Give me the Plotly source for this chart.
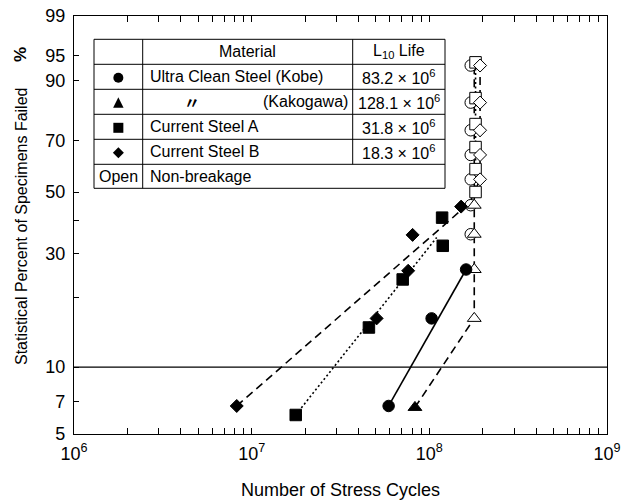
import numpy as np
import plotly.graph_objects as go

# ---------------- data ----------------
kobe_fail_cycles = [5.9e7, 1.03e8, 1.61e8]
kobe_fail_pct = [6.7, 16.3, 26.0]
kobe_open_cycles = [1.71e8, 1.71e8, 1.71e8, 1.71e8, 1.71e8, 1.71e8, 1.71e8]
kobe_open_pct = [35.6, 45.2, 54.8, 64.4, 74.0, 83.7, 93.3]
kobe_line_cycles = [5.9e7, 1.61e8]
kobe_line_pct = [6.7, 26.0]

kako_fail_cycles = [8.3e7]
kako_fail_pct = [6.6]
kako_open_cycles = [1.79e8, 1.79e8, 1.79e8, 1.79e8]
kako_open_pct = [16.3, 26.0, 35.6, 45.2]
kako_line_cycles = [8.3e7, 1.79e8, 1.79e8]
kako_line_pct = [6.6, 16.3, 93.3]

steelA_fail_cycles = [1.77e7, 4.57e7, 7.08e7, 1.19e8, 1.18e8]
steelA_fail_pct = [6.1, 14.9, 23.7, 32.2, 40.9]
steelA_open_cycles = [1.82e8, 1.82e8, 1.82e8, 1.82e8, 1.82e8, 1.82e8]
steelA_open_pct = [50.0, 58.8, 67.5, 76.3, 85.1, 93.9]
steelA_line_cycles = [1.77e7, 1.10e8]
steelA_line_pct = [6.1, 34.6]
steelA_vline_cycles = [1.82e8, 1.82e8]
steelA_vline_pct = [50.0, 93.9]

steelB_fail_cycles = [8.24e6, 5.05e7, 7.6e7, 8.05e7, 1.51e8]
steelB_fail_pct = [6.7, 16.3, 25.7, 35.4, 44.7]
steelB_open_cycles = [1.93e8, 1.93e8, 1.93e8, 1.93e8, 1.93e8]
steelB_open_pct = [54.8, 64.4, 74.0, 83.7, 93.3]
steelB_line_cycles = [8.24e6, 1.69e8, 1.93e8, 1.93e8]
steelB_line_pct = [6.7, 46.1, 54.8, 93.3]

y_tick_pct = [5, 7, 10, 20, 30, 40, 50, 70, 90, 95, 99]
y_tick_text = ["5", "7", "10", "", "30", "", "50", "70", "90", "95", "99"]
x_tick_vals = [1e6, 1e7, 1e8, 1e9]
x_tick_text = ["10<sup>6</sup>", "10<sup>7</sup>", "10<sup>8</sup>", "10<sup>9</sup>"]
x_minor_vals = [m * 10 ** e for e in (6, 7, 8) for m in range(2, 10)]
reference_pct = 10

table_materials = ["Ultra Clean Steel (Kobe)", "〃", "Current Steel A", "Current Steel B"]
table_l10 = ["83.2 × 10<sup>6</sup>", "128.1 × 10<sup>6</sup>", "31.8 × 10<sup>6</sup>", "18.3 × 10<sup>6</sup>"]


def weib(p):
    p = np.asarray(p, dtype=float) / 100.0
    return np.log(-np.log(1.0 - p))


# ---------------- figure ----------------
W, H = 627, 502
L, R, T, B = 74, 20, 16, 68
PW, PH = W - L - R, H - T - B


def px(xp):
    return (xp - L) / PW


def py(yp):
    return (H - B - yp) / PH


fig = go.Figure()
LW = 1.6
DASH = "8px,5px"
DOT = "2px,2.5px"

def line(xs, ys, dash):
    fig.add_trace(go.Scatter(x=xs, y=weib(ys), mode="lines",
                             line=dict(color="black", width=LW, dash=dash),
                             hoverinfo="skip"))

line(kobe_line_cycles, kobe_line_pct, "solid")
line(kako_line_cycles, kako_line_pct, DASH)
line(steelA_line_cycles, steelA_line_pct, DOT)
line(steelA_vline_cycles, steelA_vline_pct, DOT)
line(steelB_line_cycles, steelB_line_pct, DASH)


def markers(xs, ys, symbol, size, filled):
    fig.add_trace(go.Scatter(
        x=xs, y=weib(ys), mode="markers",
        marker=dict(symbol=symbol, size=size,
                    color="black" if filled else "white",
                    line=dict(color="black", width=1)),
        hoverinfo="skip"))

SZ = {"circle": 11.5, "triangle-up": 12, "square": 11.5, "diamond": 10}
markers(kobe_open_cycles, kobe_open_pct, "circle", SZ["circle"], False)
markers(kako_open_cycles, kako_open_pct, "triangle-up", SZ["triangle-up"], False)
markers(steelA_open_cycles, steelA_open_pct, "square", SZ["square"], False)
markers(steelB_open_cycles, steelB_open_pct, "diamond", SZ["diamond"], False)
markers(kobe_fail_cycles, kobe_fail_pct, "circle", SZ["circle"], True)
markers(kako_fail_cycles, kako_fail_pct, "triangle-up", SZ["triangle-up"], True)
markers(steelA_fail_cycles, steelA_fail_pct, "square", SZ["square"], True)
markers(steelB_fail_cycles, steelB_fail_pct, "diamond", SZ["diamond"], True)

shapes = []
# 10 % reference line
shapes.append(dict(type="line", xref="paper", x0=0, x1=1, yref="y",
                   y0=float(weib(reference_pct)), y1=float(weib(reference_pct)),
                   line=dict(color="black", width=1.2)))

# ---------------- legend table ----------------
tx0, tx1, tx2, tx3 = 94, 142.7, 352.7, 445
rows = [39.3, 64.3, 89.3, 114.3, 139.3, 164.3, 188.3]
tb = dict(color="black", width=1)
shapes.append(dict(type="rect", xref="paper", yref="paper", x0=px(tx0), x1=px(tx3),
                   y0=py(rows[-1]), y1=py(rows[0]), line=tb, fillcolor="white", layer="above"))
for r in rows[1:-1]:
    shapes.append(dict(type="line", xref="paper", yref="paper", x0=px(tx0), x1=px(tx3),
                       y0=py(r), y1=py(r), line=tb, layer="above"))
shapes.append(dict(type="line", xref="paper", yref="paper", x0=px(tx1), x1=px(tx1),
                   y0=py(rows[-1]), y1=py(rows[0]), line=tb, layer="above"))
shapes.append(dict(type="line", xref="paper", yref="paper", x0=px(tx2), x1=px(tx2),
                   y0=py(rows[-2]), y1=py(rows[0]), line=tb, layer="above"))

centers = [(rows[i] + rows[i + 1]) / 2 for i in range(len(rows) - 1)]
sx = (tx0 + tx1) / 2
# symbols
cy = centers[1] + 1
shapes.append(dict(type="circle", xref="paper", yref="paper", x0=px(sx - 5), x1=px(sx + 5),
                   y0=py(cy + 5), y1=py(cy - 5), fillcolor="black", line=dict(width=0), layer="above"))
cy = centers[2] + 1
shapes.append(dict(type="path", xref="paper", yref="paper",
                   path=f"M {px(sx-5.2)} {py(cy+5)} L {px(sx+5.2)} {py(cy+5)} L {px(sx)} {py(cy-5.5)} Z",
                   fillcolor="black", line=dict(width=0), layer="above"))
cy = centers[3] + 1
shapes.append(dict(type="rect", xref="paper", yref="paper", x0=px(sx - 5), x1=px(sx + 5),
                   y0=py(cy + 5), y1=py(cy - 5), fillcolor="black", line=dict(width=0), layer="above"))
cy = centers[4] + 1
shapes.append(dict(type="path", xref="paper", yref="paper",
                   path=f"M {px(sx)} {py(cy-5.5)} L {px(sx+5.5)} {py(cy)} L {px(sx)} {py(cy+5.5)} L {px(sx-5.5)} {py(cy)} Z",
                   fillcolor="black", line=dict(width=0), layer="above"))

ann = []
TF = dict(family="Liberation Sans, Arial, sans-serif", size=16, color="black")

def text(x, y, s, anchor="center", font=TF):
    ann.append(dict(xref="paper", yref="paper", x=px(x), y=py(y), text=s, showarrow=False,
                    xanchor=anchor, yanchor="middle", font=font))

text((tx1 + tx2) / 2, centers[0], "Material")
text((tx2 + tx3) / 2, centers[0], "L<sub>10</sub> Life")
text(tx1 + 5, centers[1], table_materials[0], "left")
text(192, centers[2], "<b>" + table_materials[1] + "</b>", "center",
     dict(family="Noto Sans CJK JP", size=16, color="black"))
text(350, centers[2], "(Kakogawa)", "right")
text(tx1 + 5, centers[3], table_materials[2], "left")
text(tx1 + 5, centers[4], table_materials[3], "left")
for i, v in enumerate(table_l10):
    text((tx2 + tx3) / 2, centers[i + 1], v)
text(sx, centers[5], "Open")
text(tx1 + 5, centers[5], "Non-breakage", "left")

# y-axis title and the "%" marker on the same line
ann.append(dict(xref="paper", yref="paper", x=px(21), y=py(227),
                text="Statistical Percent of Specimens Failed", showarrow=False,
                textangle=-90, xanchor="center", yanchor="middle",
                font=dict(family="Liberation Sans, Arial", size=16, color="black")))
ann.append(dict(xref="paper", yref="paper", x=px(21), y=py(55), text="<b>%</b>", showarrow=False,
                textangle=-90, xanchor="center", yanchor="middle",
                font=dict(family="Liberation Sans, Arial", size=17, color="black")))

fig.update_layout(
    width=W, height=H,
    margin=dict(l=L, r=R, t=T, b=B, autoexpand=False),
    plot_bgcolor="white", paper_bgcolor="white",
    showlegend=False,
    font=dict(family="Liberation Sans, Arial, sans-serif", size=16, color="black"),
    shapes=shapes, annotations=ann,
    xaxis=dict(type="log", range=[6, 9], tickmode="array", tickvals=x_tick_vals, ticktext=x_tick_text,
               ticks="inside", ticklen=6, tickcolor="black", tickwidth=1,
               showline=True, linecolor="black", linewidth=1.2, mirror="ticks",
               showgrid=False, zeroline=False, automargin=False, ticklabelstandoff=3,
               minor=dict(tickmode="array", tickvals=x_minor_vals, ticks="inside", ticklen=6,
                          tickcolor="black", tickwidth=1, showgrid=False),
               tickfont=dict(size=18),
               title=dict(text="Number of Stress Cycles", font=dict(size=18), standoff=20)),
    yaxis=dict(range=[float(weib(5)), float(weib(99))], tickmode="array",
               tickvals=weib(y_tick_pct), ticktext=y_tick_text,
               ticks="inside", ticklen=5, tickcolor="black", tickwidth=1,
               showline=True, linecolor="black", linewidth=1.2, mirror=True,
               showgrid=False, zeroline=False, automargin=False, ticklabelstandoff=4,
               tickfont=dict(size=18)),
)

fig.write_html("out.html", config={"displayModeBar": False},
               post_script="document.body.style.margin='0px';")
